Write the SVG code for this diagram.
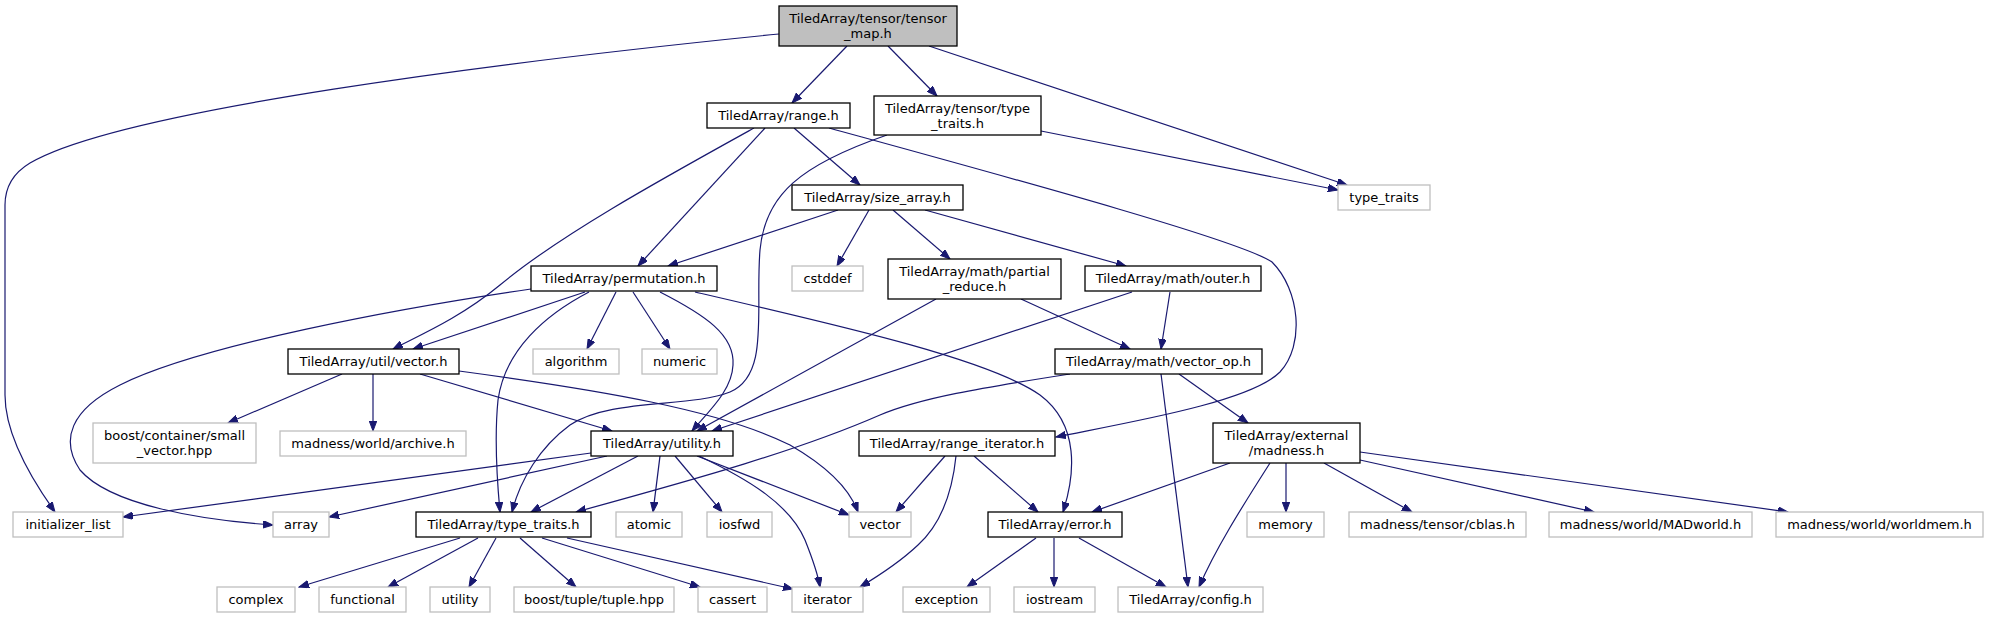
<svg xmlns="http://www.w3.org/2000/svg" width="1989" height="619" viewBox="0 0 1989 619">
<style>
rect{fill:#fff;stroke:#000;stroke-width:1.3}
.x rect{stroke:#bfbfbf}
.root rect{fill:#bfbfbf}
text{font-family:"DejaVu Sans",sans-serif;font-size:13px;text-anchor:middle;fill:#000}
#edges path{fill:none;stroke:#191970;stroke-width:1.2;marker-end:url(#a)}
</style>
<defs>
<marker id="a" markerWidth="11" markerHeight="8" refX="10" refY="3.75" orient="auto" markerUnits="userSpaceOnUse"><path d="M0,0 L10,3.75 L0,7.5 z" fill="#191970" stroke="#191970" stroke-width="1"/></marker>
</defs>
<rect x="0" y="0" width="1989" height="619" style="fill:#fff;stroke:none"/>
<g id="edges">
<path d="M779,34 C500,62 120,110 30,163 C10,175 5,190 5,205 L5,395 C5,430 25,470 55,512"/>
<path d="M847,46 L792,103"/>
<path d="M888,46 L937,96"/>
<path d="M929,46 L1347,185"/>
<path d="M1041,131 L1338,190"/>
<path d="M887,135 C800,165 765,195 760,250 C755,310 770,375 730,392 C690,408 610,398 570,425 C540,447 520,480 512,512"/>
<path d="M765,128 L638,266"/>
<path d="M754,128 C660,180 560,235 500,285 C460,318 420,335 393,349"/>
<path d="M794,128 L860,185"/>
<path d="M829,128 C1000,175 1240,240 1272,262 C1300,290 1305,345 1280,372 C1250,402 1130,422 1056,437"/>
<path d="M838,210 L668,266"/>
<path d="M869,210 L837,266"/>
<path d="M893,210 L950,259"/>
<path d="M925,210 L1126,266"/>
<path d="M531,289 C400,308 200,345 120,385 C70,410 60,440 80,470 C110,505 200,520 273,525"/>
<path d="M585,292 L413,349"/>
<path d="M589,292 C545,315 505,350 498,400 C494,440 497,480 500,512"/>
<path d="M616,292 L587,349"/>
<path d="M633,292 L670,349"/>
<path d="M660,292 C705,315 735,335 733,365 C732,390 710,410 692,431"/>
<path d="M695,292 C850,328 990,360 1040,395 C1080,425 1075,475 1063,512"/>
<path d="M342,374 L228,423"/>
<path d="M373,374 L373,431"/>
<path d="M420,374 L612,431"/>
<path d="M459,371 C600,390 720,410 790,445 C830,468 850,490 858,512"/>
<path d="M591,453 L123,517"/>
<path d="M607,456 L329,517"/>
<path d="M638,456 L531,512"/>
<path d="M660,456 L653,512"/>
<path d="M675,456 L722,512"/>
<path d="M697,456 L849,515"/>
<path d="M699,456 C750,480 790,505 805,540 C813,560 818,575 820,587"/>
<path d="M1070,374 C980,388 920,398 880,415 C800,450 700,478 576,512"/>
<path d="M460,538 L299,587"/>
<path d="M478,538 L388,587"/>
<path d="M496,538 L469,587"/>
<path d="M520,538 L576,587"/>
<path d="M542,538 L700,587"/>
<path d="M567,538 L793,589"/>
<path d="M936,299 L697,431"/>
<path d="M1132,292 L712,431"/>
<path d="M1021,299 L1130,349"/>
<path d="M1170,292 L1161,349"/>
<path d="M1161,374 L1188,587"/>
<path d="M1179,374 L1248,423"/>
<path d="M945,456 L896,512"/>
<path d="M974,456 L1038,512"/>
<path d="M956,456 C952,495 940,525 918,545 C900,562 880,575 860,587"/>
<path d="M1230,463 L1092,512"/>
<path d="M1270,463 C1240,510 1215,550 1199,587"/>
<path d="M1286,463 L1286,512"/>
<path d="M1324,463 L1412,512"/>
<path d="M1360,460 L1594,512"/>
<path d="M1360,452 L1788,512"/>
<path d="M1036,538 L967,587"/>
<path d="M1054,538 L1054,587"/>
<path d="M1079,538 L1166,587"/>
</g>
<g id="n_tensor_map" class="root"><rect x="779" y="6" width="178" height="40"/><text x="868" y="23">TiledArray/tensor/tensor</text><text x="868" y="38">_map.h</text></g>
<g id="n_range"><rect x="707" y="103" width="143" height="25"/><text x="778.5" y="120">TiledArray/range.h</text></g>
<g id="n_tensor_type_traits"><rect x="874" y="96" width="167" height="39"/><text x="957.5" y="113">TiledArray/tensor/type</text><text x="957.5" y="128">_traits.h</text></g>
<g id="n_std_type_traits" class="x"><rect x="1338" y="185" width="92" height="25"/><text x="1384" y="202">type_traits</text></g>
<g id="n_size_array"><rect x="792" y="185" width="171" height="25"/><text x="877.5" y="202">TiledArray/size_array.h</text></g>
<g id="n_permutation"><rect x="531" y="266" width="186" height="25"/><text x="624" y="283">TiledArray/permutation.h</text></g>
<g id="n_cstddef" class="x"><rect x="792" y="266" width="71" height="25"/><text x="827.5" y="283">cstddef</text></g>
<g id="n_partial_reduce"><rect x="888" y="259" width="173" height="40"/><text x="974.5" y="276">TiledArray/math/partial</text><text x="974.5" y="291">_reduce.h</text></g>
<g id="n_outer"><rect x="1085" y="266" width="176" height="25"/><text x="1173" y="283">TiledArray/math/outer.h</text></g>
<g id="n_util_vector"><rect x="288" y="349" width="171" height="25"/><text x="373.5" y="366">TiledArray/util/vector.h</text></g>
<g id="n_algorithm" class="x"><rect x="533" y="349" width="86" height="25"/><text x="576" y="366">algorithm</text></g>
<g id="n_numeric" class="x"><rect x="642" y="349" width="75" height="25"/><text x="679.5" y="366">numeric</text></g>
<g id="n_vector_op"><rect x="1055" y="349" width="207" height="25"/><text x="1158.5" y="366">TiledArray/math/vector_op.h</text></g>
<g id="n_small_vector" class="x"><rect x="93" y="423" width="163" height="40"/><text x="174.5" y="440">boost/container/small</text><text x="174.5" y="455">_vector.hpp</text></g>
<g id="n_archive" class="x"><rect x="280" y="431" width="186" height="25"/><text x="373" y="448">madness/world/archive.h</text></g>
<g id="n_utility_h"><rect x="591" y="431" width="142" height="25"/><text x="662" y="448">TiledArray/utility.h</text></g>
<g id="n_range_iterator"><rect x="859" y="431" width="196" height="25"/><text x="957" y="448">TiledArray/range_iterator.h</text></g>
<g id="n_madness"><rect x="1213" y="423" width="147" height="40"/><text x="1286.5" y="440">TiledArray/external</text><text x="1286.5" y="455">/madness.h</text></g>
<g id="n_initializer_list" class="x"><rect x="13" y="512" width="110" height="25"/><text x="68" y="529">initializer_list</text></g>
<g id="n_array" class="x"><rect x="273" y="512" width="56" height="25"/><text x="301" y="529">array</text></g>
<g id="n_type_traits_h"><rect x="416" y="512" width="175" height="25"/><text x="503.5" y="529">TiledArray/type_traits.h</text></g>
<g id="n_atomic" class="x"><rect x="616" y="512" width="66" height="25"/><text x="649" y="529">atomic</text></g>
<g id="n_iosfwd" class="x"><rect x="707" y="512" width="65" height="25"/><text x="739.5" y="529">iosfwd</text></g>
<g id="n_vector" class="x"><rect x="849" y="512" width="62" height="25"/><text x="880" y="529">vector</text></g>
<g id="n_error"><rect x="988" y="512" width="134" height="25"/><text x="1055" y="529">TiledArray/error.h</text></g>
<g id="n_memory" class="x"><rect x="1247" y="512" width="77" height="25"/><text x="1285.5" y="529">memory</text></g>
<g id="n_cblas" class="x"><rect x="1349" y="512" width="177" height="25"/><text x="1437.5" y="529">madness/tensor/cblas.h</text></g>
<g id="n_madworld" class="x"><rect x="1549" y="512" width="203" height="25"/><text x="1650.5" y="529">madness/world/MADworld.h</text></g>
<g id="n_worldmem" class="x"><rect x="1776" y="512" width="207" height="25"/><text x="1879.5" y="529">madness/world/worldmem.h</text></g>
<g id="n_complex" class="x"><rect x="217" y="587" width="78" height="25"/><text x="256" y="604">complex</text></g>
<g id="n_functional" class="x"><rect x="319" y="587" width="87" height="25"/><text x="362.5" y="604">functional</text></g>
<g id="n_utility" class="x"><rect x="430" y="587" width="60" height="25"/><text x="460" y="604">utility</text></g>
<g id="n_tuple" class="x"><rect x="514" y="587" width="160" height="25"/><text x="594" y="604">boost/tuple/tuple.hpp</text></g>
<g id="n_cassert" class="x"><rect x="698" y="587" width="69" height="25"/><text x="732.5" y="604">cassert</text></g>
<g id="n_iterator" class="x"><rect x="792" y="587" width="71" height="25"/><text x="827.5" y="604">iterator</text></g>
<g id="n_exception" class="x"><rect x="903" y="587" width="87" height="25"/><text x="946.5" y="604">exception</text></g>
<g id="n_iostream" class="x"><rect x="1014" y="587" width="81" height="25"/><text x="1054.5" y="604">iostream</text></g>
<g id="n_config" class="x"><rect x="1118" y="587" width="145" height="25"/><text x="1190.5" y="604">TiledArray/config.h</text></g>
</svg>
